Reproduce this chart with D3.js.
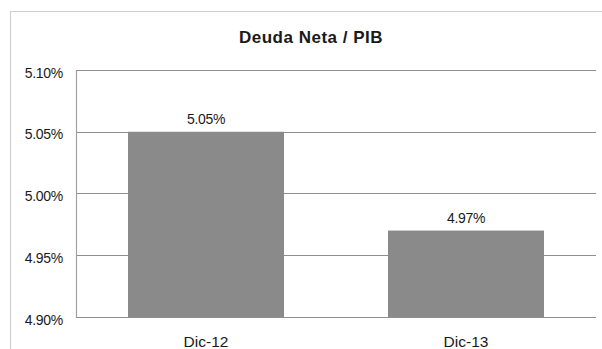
<!DOCTYPE html>
<html>
<head>
<meta charset="utf-8">
<script src="https://cdn.jsdelivr.net/npm/d3@7"></script>
<style>
  html, body { margin: 0; padding: 0; background: #fff; }
  svg { display: block; font-family: "Liberation Sans", Arial, sans-serif; }
</style>
</head>
<body>
<svg id="chart" width="602" height="349"></svg>
<script>
// Net debt as a share of GDP
const categories = ["Dic-12", "Dic-13"];
const values = [0.0505, 0.0497];
const tickValues = [0.049, 0.0495, 0.05, 0.0505, 0.051];
const title = "Deuda Neta / PIB";

const svg = d3.select("#chart");
const W = 602, H = 349;
const margin = { top: 70, right: 6, bottom: 32, left: 76 };
const plotW = W - margin.left - margin.right;
const plotH = H - margin.top - margin.bottom;

// chart frame
svg.append("path")
  .attr("d", `M10.5,${H} V11.5 H${W}`)
  .attr("fill", "none")
  .attr("stroke", "#cfcfcf")
  .attr("stroke-width", 1.2);

const x = d3.scaleBand().domain(categories).range([0, plotW]).paddingInner(0.4).paddingOuter(0.2);
const y = d3.scaleLinear().domain([0.049, 0.051]).range([plotH, 0]);
const fmt = d3.format(".2%");

const g = svg.append("g").attr("transform", `translate(${margin.left},${margin.top})`);

// horizontal gridlines
g.append("g")
  .selectAll("line")
  .data(tickValues)
  .join("line")
  .attr("x1", 0).attr("x2", plotW)
  .attr("y1", d => Math.round(y(d)) + 0.5)
  .attr("y2", d => Math.round(y(d)) + 0.5)
  .attr("stroke", "#8f8f8f")
  .attr("stroke-width", 1);

// y axis
const yAxis = g.append("g")
  .call(d3.axisLeft(y).tickValues(tickValues).tickFormat(fmt).tickSize(0).tickPadding(13));
yAxis.select(".domain").attr("stroke", "#a0a0a0").attr("stroke-width", 1.2);
yAxis.selectAll("text")
  .attr("font-size", 14)
  .attr("dy", "0.5em")
  .attr("letter-spacing", -0.3)
  .attr("fill", "#1a1a1a");

// bars
g.selectAll("rect.bar")
  .data(values)
  .join("rect")
  .attr("class", "bar")
  .attr("x", (d, i) => x(categories[i]))
  .attr("width", x.bandwidth())
  .attr("y", d => y(d))
  .attr("height", d => plotH - y(d))
  .attr("fill", "#8a8a8a");

// value labels
g.selectAll("text.val")
  .data(values)
  .join("text")
  .attr("class", "val")
  .attr("x", (d, i) => x(categories[i]) + x.bandwidth() / 2)
  .attr("y", d => y(d) - 8)
  .attr("text-anchor", "middle")
  .attr("font-size", 14)
  .attr("letter-spacing", -0.3)
  .attr("fill", "#1a1a1a")
  .text(d => fmt(d));

// x axis labels
const xAxis = g.append("g")
  .attr("transform", `translate(0,${plotH})`)
  .call(d3.axisBottom(x).tickSize(0).tickPadding(19));
xAxis.select(".domain").remove();
xAxis.selectAll("text")
  .attr("font-size", 15.5)
  .attr("fill", "#1a1a1a");

// title
svg.append("text")
  .attr("x", 311)
  .attr("y", 43)
  .attr("text-anchor", "middle")
  .attr("font-size", 17)
  .attr("font-weight", "bold")
  .attr("letter-spacing", 0.5)
  .attr("fill", "#1a1a1a")
  .text(title);
</script>
</body>
</html>
